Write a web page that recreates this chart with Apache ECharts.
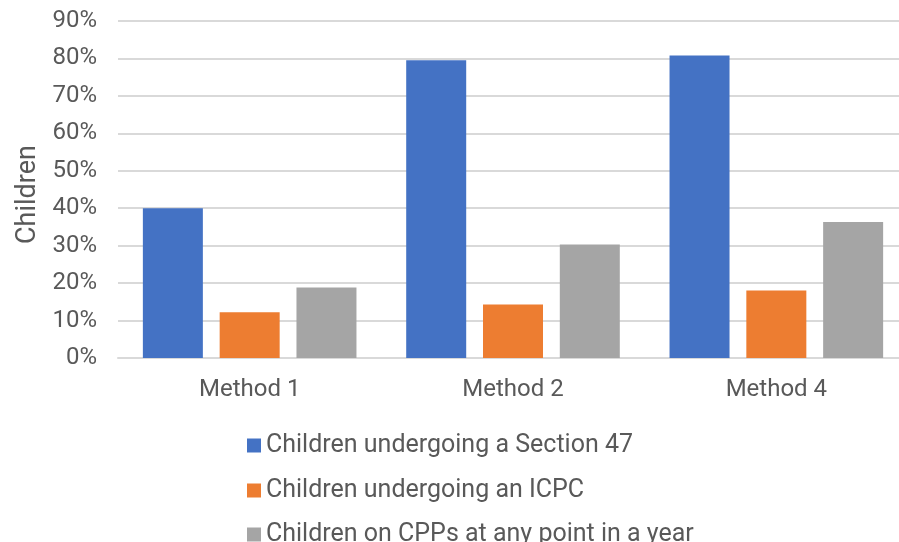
<!DOCTYPE html>
<html>
<head>
<meta charset="utf-8">
<script src="https://cdn.jsdelivr.net/npm/echarts@6/dist/echarts.min.js"></script>
<style>
  html, body { margin: 0; padding: 0; background: #fff; }
  #chart { width: 899px; height: 542px; }
</style>
</head>
<body>
<div id="chart"></div>
<script>
// Share of children per estimation method
const categories = ['Method 1', 'Method 2', 'Method 4'];
const seriesNames = [
  'Children undergoing a Section 47',
  'Children undergoing an ICPC',
  'Children on CPPs at any point in a year'
];
const section47 = [0.400, 0.795, 0.808];
const icpc = [0.122, 0.143, 0.180];
const cpp = [0.188, 0.303, 0.363];
const colors = ['#4472C4', '#ED7D31', '#A5A5A5'];
const yTicks = ['0%', '10%', '20%', '30%', '40%', '50%', '60%', '70%', '80%', '90%'];

const font = 'Roboto';
const chart = echarts.init(document.getElementById('chart'));

const makeSeries = (name, data, color) => ({
  name,
  type: 'bar',
  data,
  barWidth: 60,
  barGap: '28%',
  itemStyle: { color },
  emphasis: { disabled: true }
});

// one legend block per entry so the list can run past the bottom edge
const legendTops = [428, 473, 517];
const legends = seriesNames.map((n, i) => ({
  orient: 'vertical',
  left: 242,
  top: legendTops[i],
  itemWidth: 14,
  itemHeight: 14,
  icon: 'rect',
  selectedMode: false,
  textStyle: { fontSize: 25, color: '#595959', fontFamily: font },
  data: [n]
}));

chart.setOption({
  animation: false,
  textStyle: { fontFamily: font },
  grid: {
    left: 118, top: 21, width: 790, height: 337,
    containLabel: false, outerBoundsMode: 'none'
  },
  legend: legends,
  xAxis: {
    type: 'category',
    data: categories,
    axisLine: { show: true, lineStyle: { color: '#d9d9d9', width: 2 } },
    axisTick: { show: false },
    axisLabel: { fontSize: 24, color: '#595959', margin: 20 }
  },
  yAxis: {
    type: 'value',
    min: 0,
    max: 0.9,
    interval: 0.1,
    name: 'Children',
    nameLocation: 'middle',
    nameGap: 76,
    nameTextStyle: { fontSize: 27, color: '#595959', padding: [0, 10, 0, 0] },
    axisLine: { show: false },
    axisTick: { show: false },
    splitLine: { lineStyle: { color: '#d9d9d9', width: 2 } },
    axisLabel: {
      fontSize: 24,
      color: '#595959',
      margin: 21,
      formatter: v => yTicks[Math.round(v * 10)]
    }
  },
  series: [
    makeSeries(seriesNames[0], section47, colors[0]),
    makeSeries(seriesNames[1], icpc, colors[1]),
    makeSeries(seriesNames[2], cpp, colors[2])
  ]
});
</script>
</body>
</html>
